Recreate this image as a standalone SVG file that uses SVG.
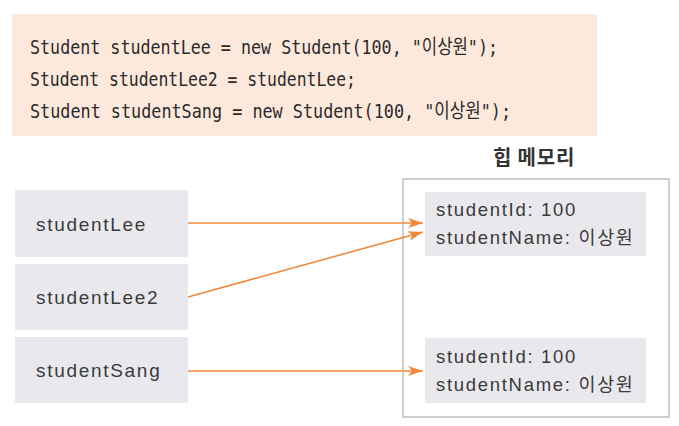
<svg xmlns="http://www.w3.org/2000/svg" width="679" height="426" viewBox="0 0 679 426">
<style>
.code{font-family:"DejaVu Sans Mono","Liberation Mono","Noto Sans CJK KR",monospace;font-size:20px;fill:#2b2b2b}
.var{fill:#e9e9ed}
.lbl{font-family:"Liberation Sans","Noto Sans CJK KR",sans-serif;font-size:19px;fill:#3a3a3a;letter-spacing:1.7px}
.fld{font-family:"Liberation Sans","Noto Sans CJK KR",sans-serif;font-size:18.5px;fill:#3a3a3a;letter-spacing:1.7px}
.title{font-family:"Noto Sans CJK KR",sans-serif;font-size:20px;font-weight:bold;fill:#333;letter-spacing:0.8px}
.conn{stroke:#f0883c;stroke-width:1.6;fill:none}
</style>
<defs>
<marker id="ah" markerUnits="userSpaceOnUse" markerWidth="16" markerHeight="12" refX="15" refY="5" orient="auto">
<path d="M0,0 L15,5 L0,10 L4,5 Z" fill="#f0883c"/>
</marker>
</defs>
<rect width="679" height="426" fill="#ffffff"/>
<g id="code">
<rect x="12" y="14" width="585" height="122" fill="#fde9dc"/>
<text class="code" x="30" y="54" textLength="468" lengthAdjust="spacingAndGlyphs">Student studentLee = new Student(100, "이상원");</text>
<text class="code" x="30" y="86" textLength="326" lengthAdjust="spacingAndGlyphs">Student studentLee2 = studentLee;</text>
<text class="code" x="30" y="118" textLength="481" lengthAdjust="spacingAndGlyphs">Student studentSang = new Student(100, "이상원");</text>
</g>
<g id="heap">
<text class="title" x="493" y="165">힙 메모리</text>
<rect x="403" y="179" width="266" height="238" fill="none" stroke="#b4b4b4" stroke-width="1.3"/>
</g>
<g id="studentLee">
<rect class="var" x="15" y="190" width="173" height="67"/>
<text class="lbl" x="36" y="231">studentLee</text>
</g>
<g id="studentLee2">
<rect class="var" x="15" y="264" width="173" height="66"/>
<text class="lbl" x="36" y="304">studentLee2</text>
</g>
<g id="studentSang">
<rect class="var" x="15" y="337" width="173" height="66"/>
<text class="lbl" x="36" y="377">studentSang</text>
</g>
<g id="obj1">
<rect class="var" x="425" y="192" width="221" height="64"/>
<text class="fld" x="436" y="216">studentId: 100</text>
<text class="fld" x="436" y="244">studentName: 이상원</text>
</g>
<g id="obj2">
<rect class="var" x="425" y="338" width="221" height="65"/>
<text class="fld" x="436" y="363">studentId: 100</text>
<text class="fld" x="436" y="391">studentName: 이상원</text>
</g>
<g id="connectors">
<line class="conn" x1="188" y1="223" x2="423" y2="223" marker-end="url(#ah)"/>
<line class="conn" x1="188" y1="297" x2="423" y2="232" marker-end="url(#ah)"/>
<line class="conn" x1="188" y1="371" x2="423" y2="371" marker-end="url(#ah)"/>
</g>
</svg>
